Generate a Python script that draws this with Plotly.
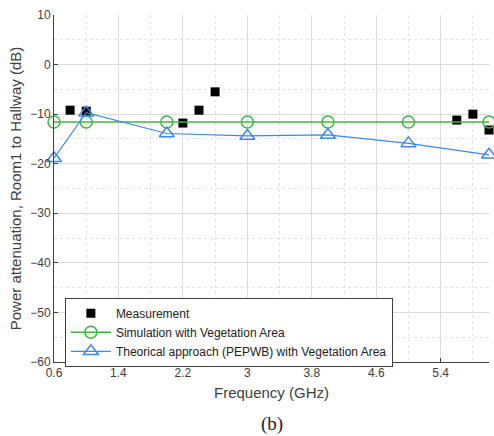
import plotly.graph_objects as go

meas_x = [0.8, 1.0, 2.2, 2.4, 2.6, 5.6, 5.8, 6.0]
meas_y = [-9.2, -9.4, -11.8, -9.2, -5.5, -11.2, -10.0, -13.2]
sim_x = [0.6, 1.0, 2.0, 3.0, 4.0, 5.0, 6.0]
sim_y = [-11.6, -11.6, -11.6, -11.6, -11.6, -11.6, -11.6]
theo_x = [0.6, 1.0, 2.0, 3.0, 4.0, 5.0, 6.0]
theo_y = [-18.9, -9.7, -13.9, -14.4, -14.2, -15.9, -18.2]
x_ticks = [0.6, 1.4, 2.2, 3.0, 3.8, 4.6, 5.4]
x_tick_text = ["0.6", "1.4", "2.2", "3", "3.8", "4.6", "5.4"]
y_ticks = [10, 0, -10, -20, -30, -40, -50, -60]

FONT = "Liberation Sans, Arial, sans-serif"

fig = go.Figure()
fig.add_trace(go.Scatter(x=meas_x, y=meas_y, mode="markers", name="Measurement",
                         marker=dict(symbol="square", size=9, color="black"),
                         cliponaxis=False))
fig.add_trace(go.Scatter(x=sim_x, y=sim_y, mode="lines+markers",
                         name="Simulation with Vegetation Area",
                         line=dict(color="#3cb83c", width=1.5),
                         marker=dict(symbol="circle-open", size=12, color="#3cb83c", line=dict(width=1.5)),
                         cliponaxis=False))
fig.add_trace(go.Scatter(x=theo_x, y=theo_y, mode="lines+markers",
                         name="Theorical approach (PEPWB) with Vegetation Area",
                         line=dict(color="#3d87f0", width=1.2),
                         marker=dict(symbol="triangle-up-open", size=13, color="#3d87f0", line=dict(width=1.5)),
                         cliponaxis=False))

fig.update_layout(
    width=494, height=436,
    margin=dict(l=54, r=5, t=15, b=74),
    paper_bgcolor="white", plot_bgcolor="white",
    font=dict(family=FONT, size=12, color="#404040"),
    showlegend=True,
    legend=dict(x=0.025, y=0.185, xanchor="left", yanchor="top",
                bgcolor="white", bordercolor="#404040", borderwidth=1,
                font=dict(size=12, color="#222222"), itemwidth=40,
                tracegroupgap=0),
    xaxis=dict(range=[0.6, 6.0], tickvals=x_ticks, ticktext=x_tick_text,
               showgrid=True, gridcolor="#dcdcdc", gridwidth=1,
               showline=True, linecolor="#404040", linewidth=1,
               ticks="inside", ticklen=4, tickcolor="#404040",
               zeroline=False,
               minor=dict(dtick=0.4, tick0=0.6, showgrid=True, gridcolor="#e2e2e2", griddash="dot"),
               title=dict(text="Frequency (GHz)", font=dict(size=15, color="#404040"), standoff=8)),
    yaxis=dict(range=[-60, 10], tickvals=y_ticks,
               showgrid=True, gridcolor="#dcdcdc", gridwidth=1,
               showline=True, linecolor="#404040", linewidth=1,
               ticks="inside", ticklen=4, tickcolor="#404040",
               zeroline=False,
               minor=dict(dtick=5, showgrid=True, gridcolor="#e2e2e2", griddash="dot"),
               title=dict(text="Power attenuation, Room1 to Hallway (dB)", font=dict(size=15, color="#404040"), standoff=4)),
    annotations=[dict(text="(b)", x=0.5, y=-0.178, xref="paper", yref="paper",
                      xanchor="center", yanchor="middle", showarrow=False,
                      font=dict(family="Liberation Serif, DejaVu Serif, serif", size=19, color="#222222"))],
)

fig.write_html("out.html")
